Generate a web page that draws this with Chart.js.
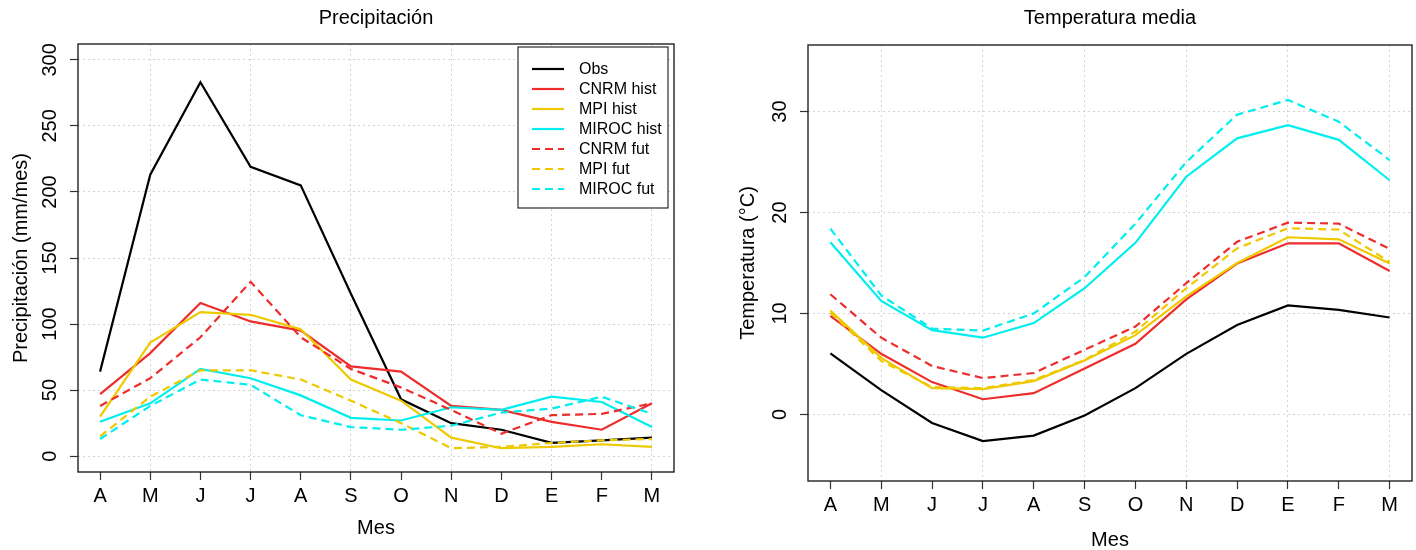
<!DOCTYPE html>
<html lang="es">
<head>
<meta charset="UTF-8">
<title>Precipitación y temperatura media</title>
<script src="https://cdn.jsdelivr.net/npm/chart.js@4"></script>
<style>
  * { margin: 0; padding: 0; box-sizing: border-box; }
  body { background: #fff; width: 1416px; height: 550px; overflow: hidden; }
  .fila { display: flex; }
  .panel { width: 708px; height: 550px; }
</style>
</head>
<body>
<div class="fila">
  <div class="panel"><canvas id="chartPr" width="708" height="550"></canvas></div>
  <div class="panel"><canvas id="chartTm" width="708" height="550"></canvas></div>
</div>

<script>
const meses = ['A', 'M', 'J', 'J', 'A', 'S', 'O', 'N', 'D', 'E', 'F', 'M'];
const nombres = ['Obs', 'CNRM hist', 'MPI hist', 'MIROC hist', 'CNRM fut', 'MPI fut', 'MIROC fut'];

// precipitación (mm/mes)
const obsPr       = [64, 213, 283, 219, 205, 123, 43, 25, 20, 10, 12, 14];
const cnrmHistPr  = [47, 78, 116, 102, 95, 68, 64, 38, 35, 26, 20, 40];
const mpiHistPr   = [30, 86, 109, 107, 96, 58, 42, 14, 6, 7, 9, 7];
const mirocHistPr = [26, 40, 66, 59, 46, 29, 27, 37, 35, 45, 41, 22];
const cnrmFutPr   = [38, 59, 90, 132, 90, 66, 52, 35, 17, 31, 32, 40];
const mpiFutPr    = [15, 45, 65, 65, 58, 42, 25, 6, 7, 10, 12, 13];
const mirocFutPr  = [13, 38, 58, 54, 31, 22, 20, 23, 33, 36, 45, 32];
const ticksPr = [0, 50, 100, 150, 200, 250, 300];

// temperatura media (°C)
const obsTm       = [6.05, 2.4, -0.85, -2.65, -2.1, -0.1, 2.6, 6.0, 8.85, 10.8, 10.35, 9.6];
const cnrmHistTm  = [9.75, 6.0, 3.2, 1.5, 2.1, 4.55, 7.0, 11.4, 14.95, 16.95, 16.95, 14.2];
const mpiHistTm   = [10.3, 5.6, 2.6, 2.5, 3.3, 5.35, 7.85, 11.7, 15.0, 17.55, 17.35, 14.95];
const mirocHistTm = [17.05, 11.25, 8.35, 7.6, 9.05, 12.5, 17.0, 23.55, 27.35, 28.65, 27.2, 23.2];
const cnrmFutTm   = [11.9, 7.6, 4.8, 3.6, 4.1, 6.4, 8.7, 13.0, 17.1, 19.0, 18.9, 16.4];
const mpiFutTm    = [10.1, 5.3, 2.7, 2.6, 3.4, 5.4, 8.2, 12.5, 16.45, 18.45, 18.3, 15.1];
const mirocFutTm  = [18.4, 11.8, 8.5, 8.3, 10.0, 13.6, 18.9, 25.0, 29.7, 31.15, 29.0, 25.2];
const ticksTm = [0, 10, 20, 30];

const colores = ['#000000', '#EE2C2C', '#EEC900', '#00EEEE', '#EE2C2C', '#EEC900', '#00EEEE'];
const FUENTE = "'Liberation Sans', Arial, Helvetica, sans-serif";
const GRIS = '#d3d3d3';

Chart.defaults.font.family = FUENTE;
Chart.defaults.color = '#000';

// caja, título y leyenda al estilo de R
const marco = {
  id: 'marco',
  afterDraw(chart, args, opts) {
    const { ctx, chartArea: a } = chart;
    ctx.save();
    ctx.strokeStyle = '#222';
    ctx.lineWidth = 1.4;
    ctx.strokeRect(a.left, a.top, a.right - a.left, a.bottom - a.top);

    ctx.fillStyle = '#000';
    ctx.font = '20px ' + FUENTE;
    ctx.textAlign = 'center';
    ctx.textBaseline = 'alphabetic';
    ctx.fillText(opts.titulo, (a.left + a.right) / 2, 24);

    if (opts.leyenda) {
      const x0 = a.right - 156, y0 = a.top + 3;
      ctx.fillStyle = '#fff';
      ctx.fillRect(x0, y0, 150, 161);
      ctx.strokeStyle = '#000';
      ctx.lineWidth = 1;
      ctx.strokeRect(x0, y0, 150, 161);
      ctx.font = '16px ' + FUENTE;
      ctx.textAlign = 'left';
      ctx.textBaseline = 'middle';
      chart.data.datasets.forEach((d, i) => {
        const y = y0 + 22 + i * 20;
        ctx.strokeStyle = d.borderColor;
        ctx.lineWidth = 2.2;
        ctx.setLineDash(d.borderDash);
        ctx.beginPath();
        ctx.moveTo(x0 + 14, y);
        ctx.lineTo(x0 + 46, y);
        ctx.stroke();
        ctx.setLineDash([]);
        ctx.fillStyle = '#000';
        ctx.fillText(d.label, x0 + 61, y + 1);
      });
    }
    ctx.restore();
  }
};

function crearGrafico(id, valores, cfg) {
  const datasets = valores.map((serie, i) => ({
    label: nombres[i],
    data: serie.map((v, j) => ({ x: j + 1, y: v })),
    borderColor: colores[i],
    borderWidth: 2.2,
    borderDash: i >= 4 ? [8, 5] : [],
    pointRadius: 0,
    tension: 0,
    fill: false,
    order: valores.length - i,
  }));

  return new Chart(document.getElementById(id), {
    type: 'line',
    data: { datasets },
    plugins: [marco],
    options: {
      responsive: false,
      animation: false,
      devicePixelRatio: 1,
      layout: { padding: { top: cfg.arriba, right: cfg.derecha, left: 0, bottom: 0 } },
      plugins: {
        legend: { display: false },
        tooltip: { enabled: false },
        title: { display: false },
        marco: { titulo: cfg.titulo, leyenda: cfg.leyenda },
      },
      scales: {
        x: {
          type: 'linear',
          min: 0.56,
          max: 12.44,
          afterBuildTicks: s => { s.ticks = meses.map((m, i) => ({ value: i + 1 })); },
          afterFit: s => { s.height = cfg.altoX; },
          ticks: { callback: v => meses[v - 1], autoSkip: false, maxRotation: 0, padding: 4.5, font: { size: 20 }, color: '#000' },
          grid: {
            color: c => (c.tick && c.tick.value % 2 === 0) ? GRIS : 'rgba(0,0,0,0)',
            lineWidth: 1, tickColor: '#333', tickLength: 8, tickWidth: 1.2,
          },
          border: { display: false, dash: [2, 3] },
          title: { display: true, text: 'Mes', font: { size: 20, lineHeight: 1 }, padding: { top: 0, bottom: cfg.mesAbajo }, color: '#000' },
        },
        y: {
          type: 'linear',
          min: cfg.yMin,
          max: cfg.yMax,
          afterBuildTicks: s => { s.ticks = cfg.ticks.map(v => ({ value: v })); },
          afterFit: s => { s.width = cfg.anchoY; },
          ticks: { minRotation: 90, maxRotation: 90, crossAlign: 'center', padding: cfg.padY, font: { size: 20 }, color: '#000' },
          grid: { color: GRIS, lineWidth: 1, tickColor: '#333', tickLength: 8, tickWidth: 1.2 },
          border: { display: false, dash: [2, 3] },
          title: { display: true, text: cfg.tituloY, font: { size: 20, lineHeight: 1 }, padding: { top: cfg.tituloYIzq, bottom: 0 }, color: '#000' },
        },
      },
    },
  });
}

crearGrafico('chartPr',
  [obsPr, cnrmHistPr, mpiHistPr, mirocHistPr, cnrmFutPr, mpiFutPr, mirocFutPr],
  { titulo: 'Precipitación', tituloY: 'Precipitación (mm/mes)', leyenda: true, ticks: ticksPr,
    yMin: -12, yMax: 312, arriba: 44, derecha: 34, anchoY: 78, altoX: 78, padY: 3, mesAbajo: 11.7, tituloYIzq: 11 });

crearGrafico('chartTm',
  [obsTm, cnrmHistTm, mpiHistTm, mirocHistTm, cnrmFutTm, mpiFutTm, mirocFutTm],
  { titulo: 'Temperatura media', tituloY: 'Temperatura (°C)', leyenda: false, ticks: ticksTm,
    yMin: -6.6, yMax: 36.6, arriba: 45, derecha: 4, anchoY: 100, altoX: 69, padY: 8.5, mesAbajo: 0, tituloYIzq: 30 });
</script>
</body>
</html>
